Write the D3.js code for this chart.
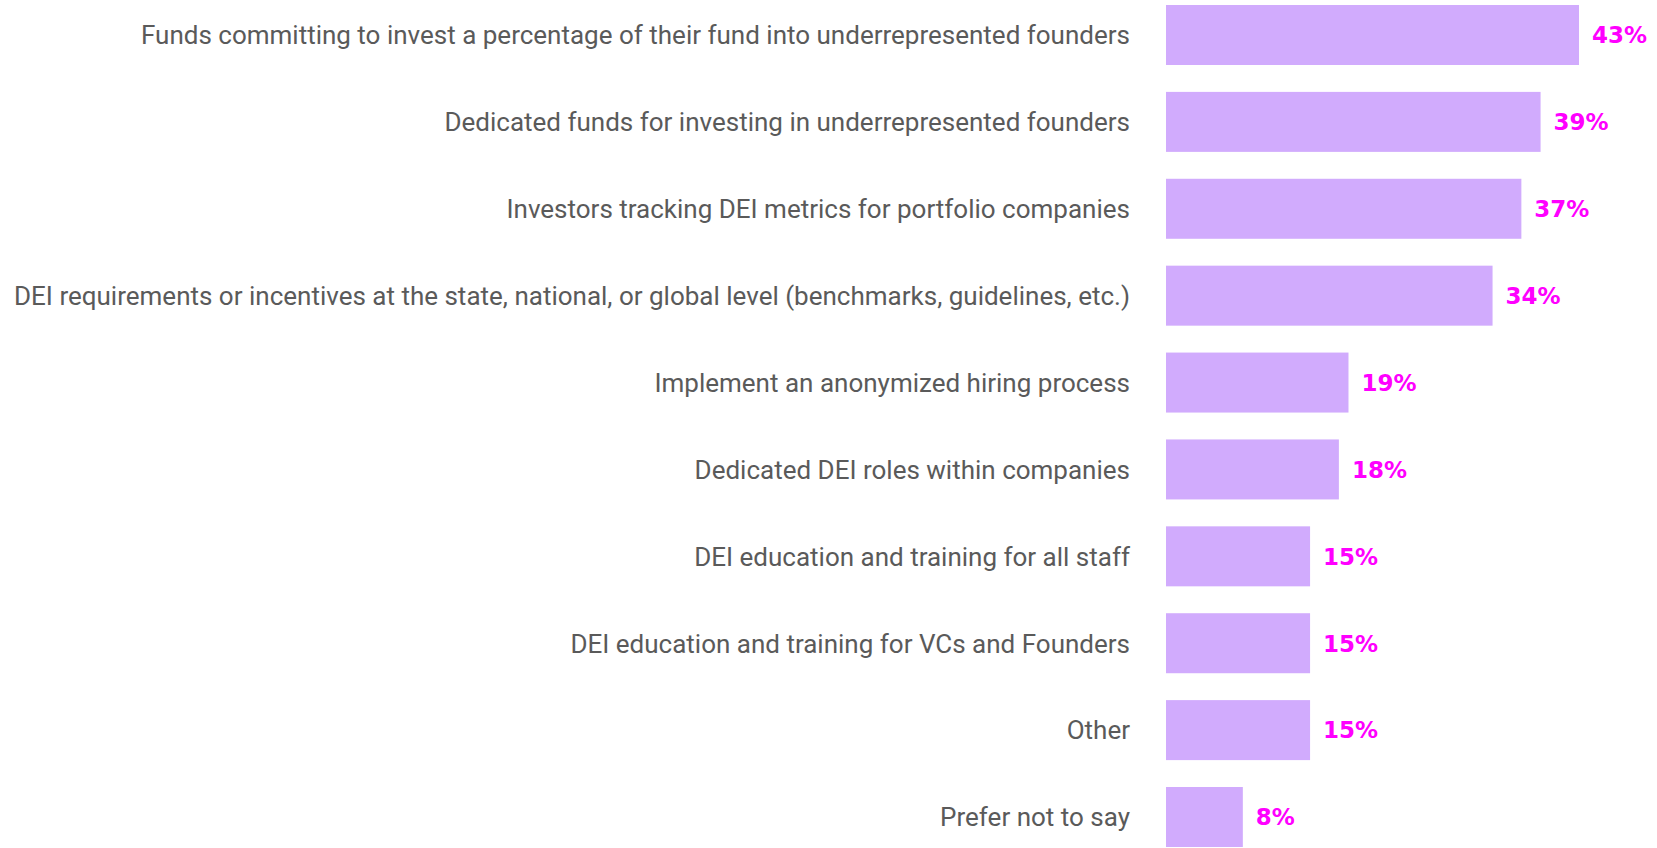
<!DOCTYPE html>
<html>
<head>
<meta charset="utf-8">
<script src="https://cdn.jsdelivr.net/npm/d3@7"></script>
<style>
  html, body { margin: 0; padding: 0; background: #ffffff; }
  svg { display: block; }
</style>
</head>
<body>
<svg id="chart" width="1657" height="848"></svg>
<script>
const categories = [
  "Funds committing to invest a percentage of their fund into underrepresented founders",
  "Dedicated funds for investing in underrepresented founders",
  "Investors tracking DEI metrics for portfolio companies",
  "DEI requirements or incentives at the state, national, or global level (benchmarks, guidelines, etc.)",
  "Implement an anonymized hiring process",
  "Dedicated DEI roles within companies",
  "DEI education and training for all staff",
  "DEI education and training for VCs and Founders",
  "Other",
  "Prefer not to say"
];
const values = [43, 39, 37, 34, 19, 18, 15, 15, 15, 8];

const svg = d3.select("#chart");
const barLeft = 1166;

const x = d3.scaleLinear().domain([0, 43]).range([barLeft, 1579]);
const y = d3.scaleBand().domain(categories).range([5, 847]).paddingInner(0.3095).paddingOuter(0);

const data = categories.map((c, i) => ({ c, v: values[i] }));

svg.selectAll("rect.bar").data(data).join("rect")
  .attr("class", "bar")
  .attr("x", x(0))
  .attr("y", d => y(d.c))
  .attr("width", d => x(d.v) - x(0))
  .attr("height", y.bandwidth())
  .attr("fill", "#d1abfd");

svg.selectAll("text.cat").data(data).join("text")
  .attr("class", "cat")
  .attr("x", barLeft - 36)
  .attr("y", d => y(d.c) + y.bandwidth() / 2)
  .attr("dy", "0.36em")
  .attr("text-anchor", "end")
  .attr("font-family", "Roboto, sans-serif")
  .attr("font-size", 26)
  .attr("fill", "#5a5a5a")
  .text(d => d.c);

svg.selectAll("text.val").data(data).join("text")
  .attr("class", "val")
  .attr("x", d => x(d.v) + 13)
  .attr("y", d => y(d.c) + y.bandwidth() / 2)
  .attr("dy", "0.36em")
  .attr("font-family", "DejaVu Sans, sans-serif")
  .attr("font-weight", "bold")
  .attr("font-size", 23)
  .attr("fill", "#ff00ff")
  .text(d => d.v + "%");
</script>
</body>
</html>
